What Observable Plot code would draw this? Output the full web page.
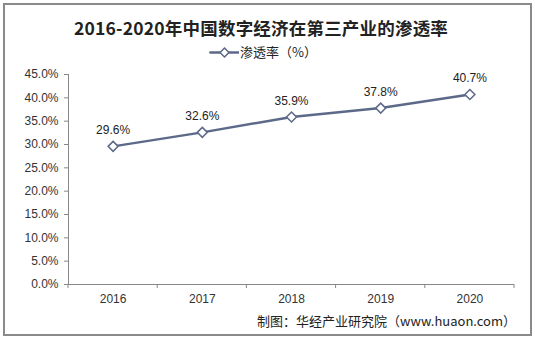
<!DOCTYPE html>
<html>
<head>
<meta charset="utf-8">
<script src="https://cdn.jsdelivr.net/npm/d3@7"></script>
<script src="https://cdn.jsdelivr.net/npm/@observablehq/plot@0.6"></script>
<style>
  html, body { margin: 0; padding: 0; background: #fff; }
  #wrap { position: relative; width: 535px; height: 338px; overflow: hidden; }
  #frame { position: absolute; left: 3px; top: 3px; width: 525px; height: 329px; border: 2px solid #8a8a8a; box-sizing: content-box; pointer-events: none; }
  #title { position: absolute; left: 0; width: 522px; top: 15px; text-align: center; font-family: "Noto Sans CJK SC", sans-serif; font-weight: bold; font-size: 17.5px; color: #222; letter-spacing: 0.2px; }
  #legend { position: absolute; left: 209px; top: 42px; display: flex; align-items: center; font-family: "Noto Sans CJK SC", sans-serif; font-size: 13px; color: #222; }
  #caption { position: absolute; right: 19px; top: 311px; font-family: "Noto Sans CJK SC", sans-serif; font-size: 13px; color: #222; }
  #chart { position: absolute; left: 0; top: 0; }
</style>
</head>
<body>
<div id="wrap">
  <div id="chart"></div>
  <div id="title"></div>
  <div id="legend"></div>
  <div id="caption"></div>
  <div id="frame"></div>
</div>
<script>
const years = [2016, 2017, 2018, 2019, 2020];
const rates = [29.6, 32.6, 35.9, 37.8, 40.7];
const yTicks = [0, 5, 10, 15, 20, 25, 30, 35, 40, 45];
const titleText = "2016-2020年中国数字经济在第三产业的渗透率";
const seriesName = "渗透率（%）";
const captionText = "制图：华经产业研究院（www.huaon.com）";

const lineColor = "#5d6989";
const data = years.map((y, i) => ({year: y, value: rates[i]}));
const bounds = d3.range(years.length + 1).map(i => years[0] - 0.5 + i);
const font = '"Liberation Sans", Arial, sans-serif';

const chart = Plot.plot({
  width: 535,
  height: 338,
  marginLeft: 68,
  marginRight: 21,
  marginTop: 74,
  marginBottom: 54,
  style: {fontFamily: font, fontSize: "12px", color: "#333", background: "transparent"},
  x: {domain: [years[0] - 0.5, years[years.length - 1] + 0.5]},
  y: {domain: [0, 45]},
  marks: [
    Plot.axisY({ticks: yTicks, tickFormat: d => d.toFixed(1) + "%", tickSize: 4, tickPadding: 6, stroke: "#888", fontSize: 12, fontFamily: font, label: null, fill: "#333"}),
    Plot.ruleX([years[0] - 0.5], {stroke: "#888", strokeWidth: 1}),
    Plot.axisX({ticks: years, tickFormat: d => String(d), tickSize: 0, tickPadding: 10, label: null, fontSize: 12, fontFamily: font, fill: "#333"}),
    Plot.ruleY([0], {stroke: "#888", strokeWidth: 1}),
    Plot.line(data, {x: "year", y: "value", stroke: lineColor, strokeWidth: 2.5}),
    Plot.dot(data, {x: "year", y: "value", symbol: "diamond2", r: 4.5, fill: "white", stroke: lineColor, strokeWidth: 1.5}),
    Plot.text(data, {x: "year", y: "value", text: d => d.value.toFixed(1) + "%", dy: -16, fontSize: 12, fontFamily: font, fill: "#222"})
  ]
});
const xs = chart.scale("x"), ys = chart.scale("y");
document.getElementById("chart").appendChild(chart);

// tick marks at category boundaries, positioned via the x scale
const ticksG = d3.select(chart).append("g").attr("stroke", "#888");
bounds.forEach(b => {
  ticksG.append("line")
    .attr("x1", xs.apply(b)).attr("x2", xs.apply(b))
    .attr("y1", ys.apply(0)).attr("y2", ys.apply(0) + 4);
});

document.getElementById("title").textContent = titleText;
document.getElementById("caption").textContent = captionText;

const leg = document.getElementById("legend");
const legSvg = Plot.plot({
  width: 30, height: 14, margin: 0,
  x: {domain: [0, 1], axis: null}, y: {domain: [0, 1], axis: null},
  marks: [
    Plot.line([{x: 0.03, y: 0.5}, {x: 0.97, y: 0.5}], {x: "x", y: "y", stroke: lineColor, strokeWidth: 2.5}),
    Plot.dot([{x: 0.5, y: 0.5}], {x: "x", y: "y", symbol: "diamond2", r: 4, fill: "white", stroke: lineColor, strokeWidth: 1.5})
  ]
});
legSvg.style.display = "block";
leg.appendChild(legSvg);
const lt = document.createElement("span");
lt.textContent = seriesName;
lt.style.marginLeft = "1px";
leg.appendChild(lt);
</script>
</body>
</html>
